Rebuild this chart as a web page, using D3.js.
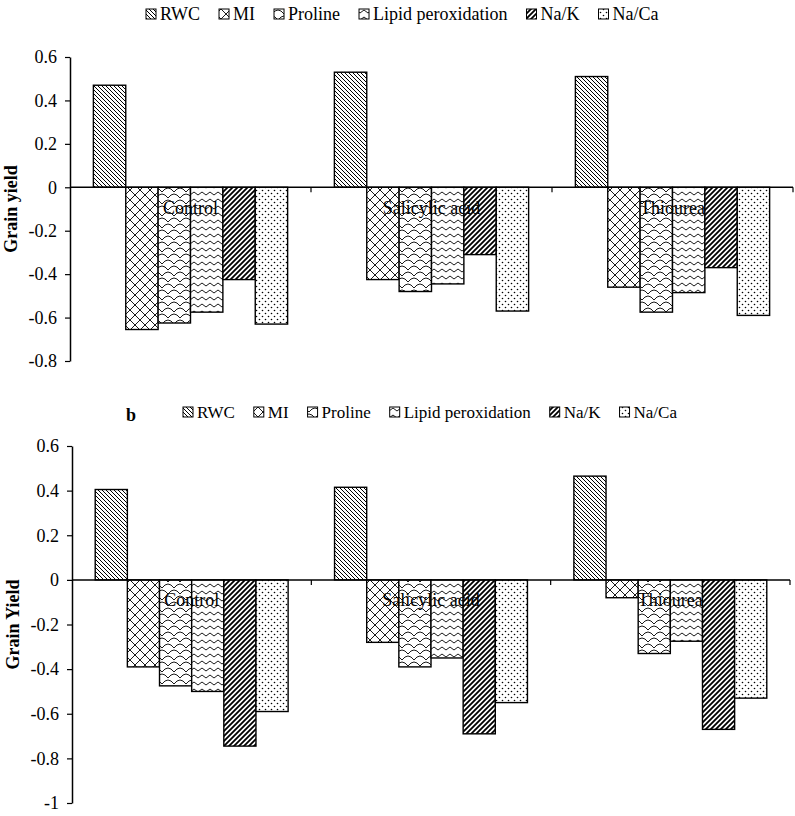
<!DOCTYPE html>
<html>
<head>
<meta charset="utf-8">
<script src="https://cdn.jsdelivr.net/npm/d3@7"></script>
<style>
  body { margin: 0; background: #fff; }
  text { font-family: "Liberation Serif", "Times New Roman", serif; fill: #000; }
</style>
</head>
<body>
<div id="chart"></div>
<script>
// categories and series
const categories = ["Control", "Salicylic acid", "Thiourea"];
const seriesNames = ["RWC", "MI", "Proline", "Lipid peroxidation", "Na/K", "Na/Ca"];

// panel a (Grain yield)
const rwcA = [0.47, 0.53, 0.51];
const miA = [-0.655, -0.425, -0.46];
const prolineA = [-0.625, -0.48, -0.575];
const lipidA = [-0.575, -0.445, -0.485];
const nakA = [-0.425, -0.31, -0.37];
const nacaA = [-0.63, -0.57, -0.59];
const ticksA = [0.6, 0.4, 0.2, 0, -0.2, -0.4, -0.6, -0.8];

// panel b (Grain Yield)
const rwcB = [0.405, 0.415, 0.465];
const miB = [-0.39, -0.28, -0.08];
const prolineB = [-0.475, -0.39, -0.33];
const lipidB = [-0.5, -0.35, -0.275];
const nakB = [-0.745, -0.69, -0.67];
const nacaB = [-0.59, -0.55, -0.53];
const ticksB = [0.6, 0.4, 0.2, 0, -0.2, -0.4, -0.6, -0.8, -1];

var width = 795, height = 816;
var svg = d3.select("#chart").append("svg")
    .attr("width", width)
    .attr("height", height);

// hatch patterns, one per series
var defs = svg.append("defs");
var patternIds = ["p-rwc", "p-mi", "p-pro", "p-lip", "p-nak", "p-nac"];

function pattern(id, w, h, draw) {
    var p = defs.append("pattern")
        .attr("id", id)
        .attr("patternUnits", "userSpaceOnUse")
        .attr("width", w)
        .attr("height", h);
    p.append("rect").attr("width", w).attr("height", h).attr("fill", "#fff");
    draw(p);
}
pattern("p-rwc", 4, 4, p => p.append("path")
    .attr("d", "M-1,-1 L5,5 M-1,3 L1,5 M3,-1 L5,1")
    .attr("stroke", "#000").attr("stroke-width", 1));
pattern("p-mi", 10, 10, p => p.append("path")
    .attr("d", "M0,0 L10,10 M10,0 L0,10")
    .attr("stroke", "#000").attr("stroke-width", 0.9));
// scale / shingle look
pattern("p-pro", 12, 12, p => p.append("path")
    .attr("d", "M0,6 Q6,-2 12,6 M-6,12 Q0,4 6,12 M6,12 Q12,4 18,12 M-6,0 Q0,-8 6,0 M6,0 Q12,-8 18,0")
    .attr("fill", "none").attr("stroke", "#000").attr("stroke-width", 0.9));
pattern("p-lip", 8, 7, p => p.append("path")
    .attr("d", "M0,4.5 Q2,1.5 4,4.5 T8,4.5")
    .attr("fill", "none").attr("stroke", "#000").attr("stroke-width", 0.9));
pattern("p-nak", 5, 5, p => p.append("path")
    .attr("d", "M-1,6 L6,-1 M-1,1 L1,-1 M4,6 L6,4")
    .attr("stroke", "#000").attr("stroke-width", 1.8));
pattern("p-nac", 6, 6, p => {
    p.append("circle").attr("cx", 1.5).attr("cy", 1.5).attr("r", 0.8).attr("fill", "#000");
    p.append("circle").attr("cx", 4.5).attr("cy", 4.5).attr("r", 0.8).attr("fill", "#000");
});

function fmt(d) {
    return d === 0 ? "0" : String(+d.toFixed(1));
}

function drawLegend(x0, y0, size) {
    var lg = svg.append("g").attr("transform", "translate(" + x0 + "," + y0 + ")");
    var x = 0;
    seriesNames.forEach(function (name, i) {
        lg.append("rect")
            .attr("x", x).attr("y", -5)
            .attr("width", 10).attr("height", 10)
            .attr("fill", "url(#" + patternIds[i] + ")")
            .attr("stroke", "#000").attr("stroke-width", 1);
        var t = lg.append("text")
            .attr("x", x + 14).attr("y", 6)
            .style("font-size", size + "px")
            .text(name);
        x += 14 + t.node().getComputedTextLength() + 19;
    });
}

function drawPanel(cfg) {
    var values = cfg.values;
    var g = svg.append("g");

    var y = d3.scaleLinear()
        .domain([cfg.ticks[cfg.ticks.length - 1], cfg.ticks[0]])
        .range([cfg.bottom, cfg.top]);
    var x = d3.scaleBand()
        .domain(categories)
        .range([cfg.left, cfg.right]);
    var gap = x.bandwidth() * 0.097;
    var xs = d3.scaleBand()
        .domain(seriesNames)
        .range([gap, x.bandwidth() - gap]);

    // bars
    seriesNames.forEach(function (name, si) {
        g.selectAll(".bar-" + si)
            .data(values[si])
            .enter().append("rect")
            .attr("x", (d, ci) => x(categories[ci]) + xs(name))
            .attr("y", d => y(Math.max(0, d)))
            .attr("width", xs.bandwidth())
            .attr("height", d => Math.abs(y(d) - y(0)))
            .attr("fill", "url(#" + patternIds[si] + ")")
            .attr("stroke", "#000")
            .attr("stroke-width", 1.4);
    });

    // y axis
    var yAxis = d3.axisLeft(y)
        .tickValues(cfg.ticks)
        .tickFormat(fmt)
        .tickSize(5)
        .tickSizeOuter(0);
    var ya = g.append("g")
        .attr("transform", "translate(" + cfg.left + ",0)")
        .call(yAxis);
    ya.select(".domain").attr("stroke", "#000").attr("stroke-width", 1.5);
    ya.selectAll(".tick line").attr("stroke", "#000").attr("stroke-width", 1.2);
    ya.selectAll(".tick text")
        .attr("x", -13)
        .style("font-size", "18px")
        .style("font-family", "Liberation Serif, serif");

    // zero line with category ticks
    g.append("line")
        .attr("x1", cfg.left).attr("x2", cfg.right)
        .attr("y1", y(0)).attr("y2", y(0))
        .attr("stroke", "#000").attr("stroke-width", 1.5);
    categories.forEach(function (c) {
        var xe = x(c) + x.bandwidth();
        g.append("line")
            .attr("x1", xe).attr("x2", xe)
            .attr("y1", y(0)).attr("y2", y(0) + 5)
            .attr("stroke", "#000").attr("stroke-width", 1.2);
        g.append("text")
            .attr("x", x(c) + x.bandwidth() / 2)
            .attr("y", y(0) + cfg.labelDy)
            .attr("text-anchor", "middle")
            .style("font-size", "18px")
            .text(c);
    });

    // y title
    g.append("text")
        .attr("transform", "translate(" + cfg.titleX + "," + ((cfg.top + cfg.bottom) / 2) + ") rotate(-90)")
        .attr("text-anchor", "middle")
        .style("font-size", "18px")
        .style("font-weight", "bold")
        .text(cfg.title);
}

drawLegend(146, 14, 18);
drawPanel({
    values: [rwcA, miA, prolineA, lipidA, nakA, nacaA],
    ticks: ticksA,
    top: 57, bottom: 361, left: 70, right: 793,
    labelDy: 27, titleX: 17, title: "Grain yield"
});

svg.append("text")
    .attr("x", 126).attr("y", 421)
    .style("font-size", "18px")
    .style("font-weight", "bold")
    .text("b");
drawLegend(183, 412, 17);
drawPanel({
    values: [rwcB, miB, prolineB, lipidB, nakB, nacaB],
    ticks: ticksB,
    top: 446, bottom: 803, left: 72, right: 790,
    labelDy: 26, titleX: 19, title: "Grain Yield"
});
</script>
</body>
</html>
